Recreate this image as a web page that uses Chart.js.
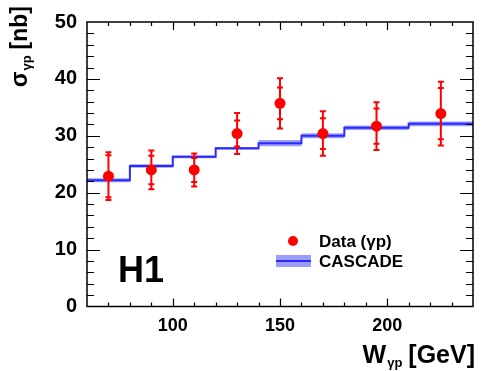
<!DOCTYPE html>
<html>
<head>
<meta charset="utf-8">
<script src="https://cdn.jsdelivr.net/npm/chart.js@4.4.1/dist/chart.umd.min.js"></script>
<style>
  html, body { margin: 0; padding: 0; background: #fff; }
  #wrap { width: 485px; height: 371px; }
</style>
</head>
<body>
<div id="wrap"><canvas id="xsecChart" width="485" height="371"></canvas></div>
<script>
// H1 data: sigma(gamma p) vs W
const wPoints = [70, 90, 110, 130, 150, 170, 195, 225];
const sigmaData = [22.9, 24.0, 24.0, 30.4, 35.7, 30.4, 31.7, 33.9];
const statErr = [3.7, 2.5, 2.1, 2.3, 2.8, 2.7, 3.1, 4.5];
const totErr = [4.2, 3.4, 2.9, 3.6, 4.4, 3.9, 4.2, 5.6];

// CASCADE prediction, histogram bins
const binEdges = [60, 80, 100, 120, 140, 160, 180, 210, 240];
const cascadeVals = [22.2, 24.7, 26.3, 27.8, 28.7, 30.0, 31.4, 32.1];
const cascadeErr = [0.35, 0.3, 0.25, 0.25, 0.55, 0.45, 0.4, 0.4];

const xTickLabels = [100, 150, 200];
const yTickLabels = [0, 10, 20, 30, 40, 50];

const FONT = '"Liberation Sans", Arial, Helvetica, sans-serif';
const RED = '#ff0000';
const BLUE = '#2a2aff';
const BAND = '#9c9cff';

// step histogram -> points at left edges + closing point
function histPoints(vals) {
    const pts = vals.map((v, i) => ({ x: binEdges[i], y: v }));
    pts.push({ x: binEdges[binEdges.length - 1], y: vals[vals.length - 1] });
    return pts;
}
const bandUp = histPoints(cascadeVals.map((v, i) => v + cascadeErr[i]));
const bandDown = histPoints(cascadeVals.map((v, i) => v - cascadeErr[i]));
const cascadeLine = histPoints(cascadeVals);
const dataPts = wPoints.map((w, i) => ({ x: w, y: sigmaData[i] }));

// draws pieces of text with sub-scripts along a baseline
function richText(ctx, parts, x, y) {
    let cx = x;
    parts.forEach(p => {
        ctx.font = `bold ${p.size}px ${FONT}`;
        ctx.fillText(p.text, cx, y + (p.dy || 0));
        cx += ctx.measureText(p.text).width + (p.gap || 0);
    });
    return cx - x;
}
function richWidth(ctx, parts) {
    let w = 0;
    parts.forEach(p => {
        ctx.font = `bold ${p.size}px ${FONT}`;
        w += ctx.measureText(p.text).width + (p.gap || 0);
    });
    return w;
}

const decorPlugin = {
    id: 'decor',
    afterDatasetsDraw(chart) {
        const ctx = chart.ctx;
        const xs = chart.scales.x, ys = chart.scales.y;
        // error bars
        ctx.save();
        ctx.strokeStyle = RED;
        ctx.lineWidth = 2;
        wPoints.forEach((w, i) => {
            const px = xs.getPixelForValue(w);
            const top = ys.getPixelForValue(sigmaData[i] + totErr[i]);
            const bot = ys.getPixelForValue(sigmaData[i] - totErr[i]);
            ctx.beginPath();
            ctx.moveTo(px, top); ctx.lineTo(px, bot);
            [sigmaData[i] + totErr[i], sigmaData[i] - totErr[i],
             sigmaData[i] + statErr[i], sigmaData[i] - statErr[i]].forEach(v => {
                const py = ys.getPixelForValue(v);
                ctx.moveTo(px - 3, py); ctx.lineTo(px + 3, py);
            });
            ctx.stroke();
        });
        ctx.restore();
    },
    afterDraw(chart) {
        const ctx = chart.ctx;
        const a = chart.chartArea;
        const xs = chart.scales.x, ys = chart.scales.y;
        ctx.save();
        // frame
        ctx.strokeStyle = '#000';
        ctx.lineWidth = 1.5;
        ctx.strokeRect(a.left, a.top, a.right - a.left, a.bottom - a.top);
        // inward ticks
        ctx.lineWidth = 1.2;
        ctx.beginPath();
        for (let v = 2; v < 50; v += 2) {
            const py = Math.round(ys.getPixelForValue(v)) + 0.5;
            const len = v % 10 === 0 ? 13 : 7;
            ctx.moveTo(a.left, py); ctx.lineTo(a.left + len, py);
            ctx.moveTo(a.right, py); ctx.lineTo(a.right - len, py);
        }
        for (let v = 70; v < 240; v += 10) {
            const px = Math.round(xs.getPixelForValue(v)) + 0.5;
            const len = v % 50 === 0 ? 8 : 4;
            ctx.moveTo(px, a.bottom); ctx.lineTo(px, a.bottom - len);
            ctx.moveTo(px, a.top); ctx.lineTo(px, a.top + len);
        }
        ctx.stroke();

        ctx.fillStyle = '#000';
        ctx.textBaseline = 'alphabetic';
        ctx.textAlign = 'left';
        // x title, right aligned to frame
        const xParts = [
            { text: 'W', size: 25, gap: 1 },
            { text: 'γp', size: 13, dy: 4, gap: 6 },
            { text: '[GeV]', size: 25 }
        ];
        richText(ctx, xParts, a.right + 2 - richWidth(ctx, xParts), 363);
        // y title, rotated, ending at the top
        const yParts = [
            { text: 'σ', size: 23, gap: 1 },
            { text: 'γp', size: 13, dy: 4, gap: 6 },
            { text: '[nb]', size: 23 }
        ];
        ctx.save();
        ctx.translate(27, 6 + richWidth(ctx, yParts));
        ctx.rotate(-Math.PI / 2);
        richText(ctx, yParts, 0, 0);
        ctx.restore();

        // H1 label
        ctx.font = `bold 36px ${FONT}`;
        ctx.fillText('H1', a.left + 31, a.bottom - 25);

        // legend
        const lx = a.left + 189, ly = a.top + 219;
        ctx.fillStyle = RED;
        ctx.beginPath();
        ctx.arc(lx + 17, ly, 5, 0, Math.PI * 2);
        ctx.fill();
        ctx.fillStyle = BAND;
        ctx.fillRect(lx, ly + 14, 35, 12);
        ctx.strokeStyle = BLUE;
        ctx.lineWidth = 2;
        ctx.beginPath();
        ctx.moveTo(lx, ly + 20); ctx.lineTo(lx + 35, ly + 20);
        ctx.stroke();
        ctx.fillStyle = '#000';
        ctx.textBaseline = 'middle';
        ctx.font = `bold 17px ${FONT}`;
        ctx.fillText('Data (γp)', lx + 43, ly + 1);
        ctx.fillText('CASCADE', lx + 43, ly + 21);
        ctx.restore();
    }
};

const ctx = document.getElementById('xsecChart');
// datasets listed top-most first (Chart.js draws index 0 last)
const config = {
    type: 'line',
    data: {
        datasets: [
            { label: 'Data (γp)', data: dataPts, showLine: false, pointRadius: 5.5,
              pointBackgroundColor: RED, pointBorderColor: RED, pointBorderWidth: 0 },
            { label: 'CASCADE', data: cascadeLine, stepped: true, borderColor: BLUE, borderWidth: 2,
              pointRadius: 0, fill: false },
            { label: 'band up', data: bandUp, stepped: true, borderWidth: 0, pointRadius: 0,
              borderColor: 'rgba(0,0,0,0)', backgroundColor: BAND, fill: '+1' },
            { label: 'band down', data: bandDown, stepped: true, borderWidth: 0, pointRadius: 0,
              borderColor: 'rgba(0,0,0,0)', fill: false }
        ]
    },
    options: {
        responsive: false,
        animation: false,
        devicePixelRatio: 1,
        layout: { padding: { left: 0, right: 12, top: 10.5, bottom: 0 } },
        plugins: {
            legend: { display: false },
            tooltip: { enabled: false }
        },
        scales: {
            x: {
                type: 'linear',
                min: 60, max: 240,
                grid: { display: false, drawTicks: false },
                border: { display: false },
                afterFit: s => { s.height = 64.5; },
                afterBuildTicks: s => { s.ticks = xTickLabels.map(v => ({ value: v })); },
                ticks: { color: '#000', padding: 9, maxRotation: 0,
                         font: { family: FONT, size: 18, weight: 'bold' } }
            },
            y: {
                type: 'linear',
                min: 0, max: 50,
                grid: { display: false, drawTicks: false },
                border: { display: false },
                afterFit: s => { s.width = 87; },
                afterBuildTicks: s => { s.ticks = yTickLabels.map(v => ({ value: v })); },
                ticks: { color: '#000', padding: 10,
                         font: { family: FONT, size: 20, weight: 'bold' } }
            }
        }
    },
    plugins: [decorPlugin]
};
const myChart = new Chart(ctx, config);
</script>
</body>
</html>
